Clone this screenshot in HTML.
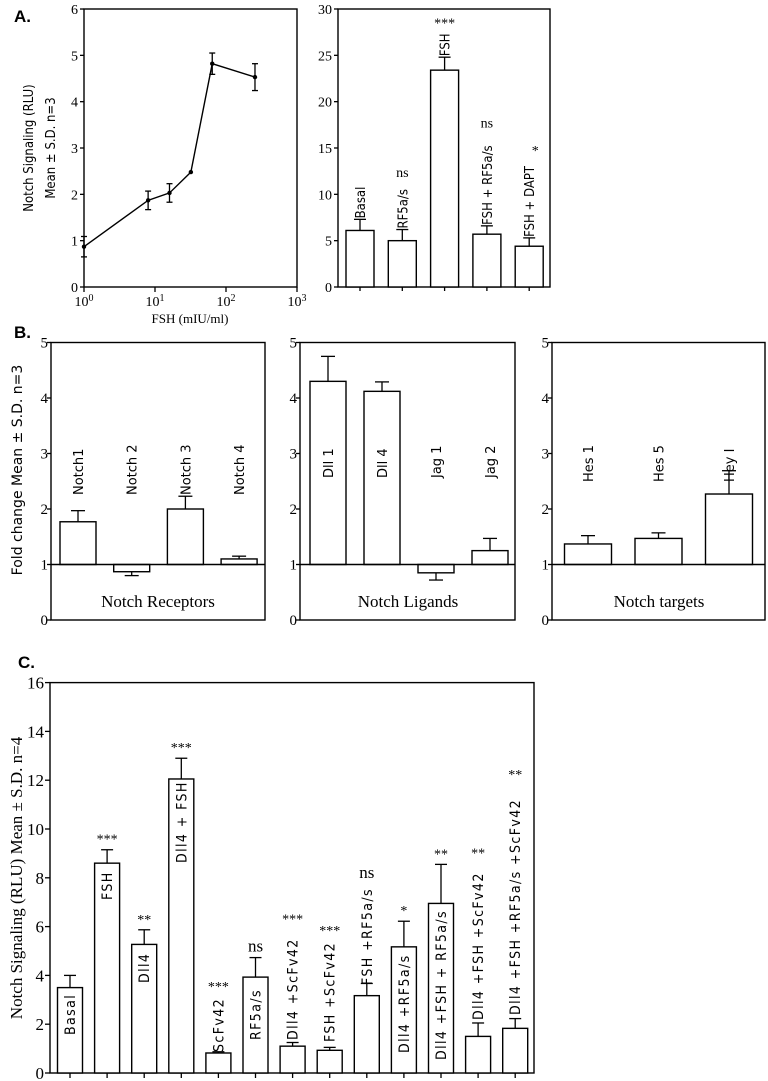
<!DOCTYPE html>
<html><head><meta charset="utf-8"><style>
html,body{margin:0;padding:0;background:#fff}
svg{display:block}
.s{font-family:"Liberation Serif",serif}
.a{font-family:"DejaVu Sans Condensed","DejaVu Sans","Liberation Sans",sans-serif}
.d{font-family:"DejaVu Sans","Liberation Sans",sans-serif}
.b{font-family:"Liberation Sans",sans-serif;font-weight:bold}
</style></head><body>
<svg id="fig" width="768" height="1081" viewBox="0 0 768 1081" xmlns="http://www.w3.org/2000/svg">
<text x="14" y="22" class="b" font-size="17">A.</text>
<text x="14" y="338" class="b" font-size="17">B.</text>
<text x="18" y="668" class="b" font-size="17">C.</text>
<text transform="translate(33,148) rotate(-90)" text-anchor="middle" class="a" font-size="13">Notch Signaling (RLU)</text>
<text transform="translate(55,148) rotate(-90)" text-anchor="middle" class="a" font-size="13">Mean ± S.D. n=3</text>
<text x="190" y="323" text-anchor="middle" class="s" font-size="13">FSH (mIU/ml)</text>
<text transform="translate(22,470) rotate(-90)" text-anchor="middle" class="d" font-size="14">Fold change Mean ± S.D. n=3</text>
<text transform="translate(22,878) rotate(-90)" text-anchor="middle" class="s" font-size="17">Notch Signaling (RLU) Mean ± S.D. n=4</text>
</svg>
<script>
// ---- Panel A left (dose response) ----
const doseX = [1, 8, 16, 32, 64, 256];
const doseY = [0.87, 1.87, 2.03, 2.48, 4.82, 4.53];
const doseErr = [0.22, 0.2, 0.2, 0, 0.23, 0.29];
const doseYTicks = [0, 1, 2, 3, 4, 5, 6];
const doseXTicks = ["0", "1", "2", "3"];
// ---- Panel A right ----
const aCats = ["Basal", "RF5a/s", "FSH", "FSH + RF5a/s", "FSH + DAPT"];
const aVals = [6.1, 5.0, 23.4, 5.7, 4.4];
const aErr = [1.2, 1.2, 1.4, 0.9, 0.9];
const aSig = ["", "ns", "***", "ns", "*"];
const aYTicks = [0, 5, 10, 15, 20, 25, 30];
// ---- Panel B ----
const bGroups = ["Notch Receptors", "Notch Ligands", "Notch targets"];
const bCats1 = ["Notch1", "Notch 2", "Notch 3", "Notch 4"];
const bVals1 = [1.77, 0.87, 2.0, 1.1];
const bErr1 = [0.2, 0.07, 0.23, 0.05];
const bCats2 = ["Dll 1", "Dll 4", "Jag 1", "Jag 2"];
const bVals2 = [4.3, 4.12, 0.85, 1.25];
const bErr2 = [0.45, 0.17, 0.13, 0.22];
const bCats3 = ["Hes 1", "Hes 5", "Hey I"];
const bVals3 = [1.37, 1.47, 2.27];
const bErr3 = [0.15, 0.1, 0.42];
const bYTicks = [0, 1, 2, 3, 4, 5];
// ---- Panel C ----
const cCats = ["Basal", "FSH", "Dll4", "Dll4 + FSH", "ScFv42", "RF5a/s", "Dll4 +ScFv42", "FSH +ScFv42", "FSH +RF5a/s", "Dll4 +RF5a/s", "Dll4 +FSH + RF5a/s", "Dll4 +FSH +ScFv42", "Dll4 +FSH +RF5a/s +ScFv42"];
const cVals = [3.5, 8.6, 5.27, 12.05, 0.82, 3.93, 1.1, 0.93, 3.17, 5.17, 6.95, 1.5, 1.83];
const cErr = [0.5, 0.55, 0.6, 0.85, 0.05, 0.8, 0.15, 0.12, 0.5, 1.05, 1.6, 0.55, 0.4];
const cSig = ["", "***", "**", "***", "***", "ns", "***", "***", "ns", "*", "**", "**", "**"];
const cYTicks = [0, 2, 4, 6, 8, 10, 12, 14, 16];

const svg = document.getElementById('fig');
const NS = 'http://www.w3.org/2000/svg';
function mk(tag, attrs) {
  const e = document.createElementNS(NS, tag);
  for (const k in attrs) e.setAttribute(k, attrs[k]);
  svg.appendChild(e);
  return e;
}
function line(x1, y1, x2, y2, w) {
  return mk('line', {x1: x1, y1: y1, x2: x2, y2: y2, stroke: '#000', 'stroke-width': w || 1.3});
}

// Panel A left
const xA = v => 84 + 71 * Math.log10(v);
const yA = v => 287 - 46.33 * v;
let el = mk('rect', {x: 84, y: 9, width: 213, height: 278, fill: 'none', stroke: '#000', 'stroke-width': 1.4});


doseYTicks.forEach(t => {
  el = line(80, yA(t), 84, yA(t));
  
  
  el = mk('text', {x: 78, y: yA(t) + 5, 'text-anchor': 'end', class: 's', 'font-size': 14});
  el.textContent = t;
  
  
});
doseXTicks.forEach((t, i) => {
  const x = 84 + 71 * i;
  el = line(x, 287, x, 292);
  
  
  el = mk('text', {x: x, y: 306, 'text-anchor': 'middle', class: 's', 'font-size': 14});
  el.innerHTML = '10<tspan dy="-5" font-size="10">' + t + '</tspan>';
  
  
});
el = mk('polyline', {points: doseX.map((v, i) => xA(v) + ',' + yA(doseY[i])).join(' '), fill: 'none', stroke: '#000', 'stroke-width': 1.4});


doseX.forEach((v, i) => {
  if (doseErr[i] > 0) {
    el = line(xA(v), yA(doseY[i] - doseErr[i]), xA(v), yA(doseY[i] + doseErr[i]));
    
    
    el = line(xA(v) - 3, yA(doseY[i] + doseErr[i]), xA(v) + 3, yA(doseY[i] + doseErr[i]));
    
    
    el = line(xA(v) - 3, yA(doseY[i] - doseErr[i]), xA(v) + 3, yA(doseY[i] - doseErr[i]));
    
    
  }
  el = mk('circle', {cx: xA(v), cy: yA(doseY[i]), r: 2.2, fill: '#000'});
  
  
});

// Panel A right
const yR = v => 287 - 9.267 * v;
const xR = i => 360 + 42.3 * i;
el = mk('rect', {x: 338, y: 9, width: 212, height: 278, fill: 'none', stroke: '#000', 'stroke-width': 1.4});


aYTicks.forEach(t => {
  el = line(334, yR(t), 338, yR(t));
  
  
  el = mk('text', {x: 332, y: yR(t) + 5, 'text-anchor': 'end', class: 's', 'font-size': 14});
  el.textContent = t;
  
  
});
aCats.forEach((c, i) => {
  const x = xR(i);
  el = mk('rect', {x: x - 14, y: yR(aVals[i]), width: 28, height: yR(0) - yR(aVals[i]), fill: '#fff', stroke: '#000', 'stroke-width': 1.4});
  
  
  el = line(x, yR(aVals[i]), x, yR(aVals[i] + aErr[i]));
  
  
  el = line(x - 6, yR(aVals[i] + aErr[i]), x + 6, yR(aVals[i] + aErr[i]));
  
  
  el = line(x, 287, x, 291);
  
  
  const ty = yR(aVals[i] + aErr[i]) - 1;
  el = mk('text', {transform: 'translate(' + (x + 5) + ',' + ty + ') rotate(-90)', class: 'a', 'font-size': 13});
  el.textContent = c;
  
  
  if (aSig[i]) {
    const tw = c.length * 7.6;
    el = mk('text', {x: x + (aSig[i] === '*' ? 6 : 0), y: ty - tw - 6, 'text-anchor': 'middle', class: 's', 'font-size': 14});
    el.textContent = aSig[i];
    
    
  }
});

// Panel B
const yB = v => 620 - 55.5 * v;
const bPanels = [
  {x0: 51, x1: 265, cats: bCats1, vals: bVals1, err: bErr1, c0: 78, step: 53.7, w: 36, ly: 495, gx: 158},
  {x0: 300, x1: 515, cats: bCats2, vals: bVals2, err: bErr2, c0: 328, step: 54, w: 36, ly: 478, gx: 408},
  {x0: 552, x1: 765, cats: bCats3, vals: bVals3, err: bErr3, c0: 588, step: 70.5, w: 47, ly: 482, gx: 659}
];
bPanels.forEach((p, pi) => {
  el = mk('rect', {x: p.x0, y: yB(5), width: p.x1 - p.x0, height: yB(0) - yB(5), fill: 'none', stroke: '#000', 'stroke-width': 1.4});
  
  
  bYTicks.forEach(t => {
    el = line(p.x0 - 4, yB(t), p.x0, yB(t));
    
    
    el = mk('text', {x: p.x0 - 3, y: yB(t) + 5, 'text-anchor': 'end', class: 's', 'font-size': 15});
    el.textContent = t;
    
    
  });
  p.cats.forEach((c, i) => {
    const x = p.c0 + p.step * i;
    const v = p.vals[i];
    const top = Math.min(yB(v), yB(1)), bot = Math.max(yB(v), yB(1));
    el = mk('rect', {x: x - p.w / 2, y: top, width: p.w, height: bot - top, fill: '#fff', stroke: '#000', 'stroke-width': 1.4});
    
    
    const e = v >= 1 ? v + p.err[i] : v - p.err[i];
    el = line(x, yB(v), x, yB(e));
    
    
    el = line(x - 7, yB(e), x + 7, yB(e));
    
    
    el = mk('text', {transform: 'translate(' + (x + 5) + ',' + p.ly + ') rotate(-90)', class: 'd', 'font-size': 13});
    el.textContent = c;
    
    
  });
  el = line(p.x0, yB(1), p.x1, yB(1), 1.4);
  
  
  el = mk('text', {x: p.gx, y: 607, 'text-anchor': 'middle', class: 's', 'font-size': 17});
  el.textContent = bGroups[pi];
  
  
});

// Panel C
const yC = v => 1073 - 24.4 * v;
const xC = i => 70 + 37.1 * i;
const cLabelY = [1035, 900, 983, 863, 1052, 1040, 1040, 1042, 985, 1053, 1060, 1020, 1015];
el = mk('rect', {x: 50, y: yC(16), width: 484, height: yC(0) - yC(16), fill: 'none', stroke: '#000', 'stroke-width': 1.4});


cYTicks.forEach(t => {
  el = line(45, yC(t), 50, yC(t));
  
  
  el = mk('text', {x: 44, y: yC(t) + 6, 'text-anchor': 'end', class: 's', 'font-size': 17});
  el.textContent = t;
  
  
});
cCats.forEach((c, i) => {
  const x = xC(i);
  el = mk('rect', {x: x - 12.5, y: yC(cVals[i]), width: 25, height: yC(0) - yC(cVals[i]), fill: '#fff', stroke: '#000', 'stroke-width': 1.4});
  
  
  el = line(x, yC(cVals[i]), x, yC(cVals[i] + cErr[i]));
  
  
  el = line(x - 6, yC(cVals[i] + cErr[i]), x + 6, yC(cVals[i] + cErr[i]));
  
  
  el = line(x, 1073, x, 1078);
  
  
  el = mk('text', {transform: 'translate(' + (x + 5) + ',' + cLabelY[i] + ') rotate(-90)', class: 'a', 'font-size': 14, 'letter-spacing': '1.4'});
  el.textContent = c;
  
  
  if (cSig[i]) {
    const errTop = yC(cVals[i] + cErr[i]);
    const labTop = cLabelY[i] - c.length * 9.2;
    const sy = Math.min(errTop, labTop) - 6;
    el = mk('text', {x: x, y: sy, 'text-anchor': 'middle', class: 's', 'font-size': cSig[i] === 'ns' ? 17 : 14});
    el.textContent = cSig[i];
    
    
  }
});
</script>
</body></html>
